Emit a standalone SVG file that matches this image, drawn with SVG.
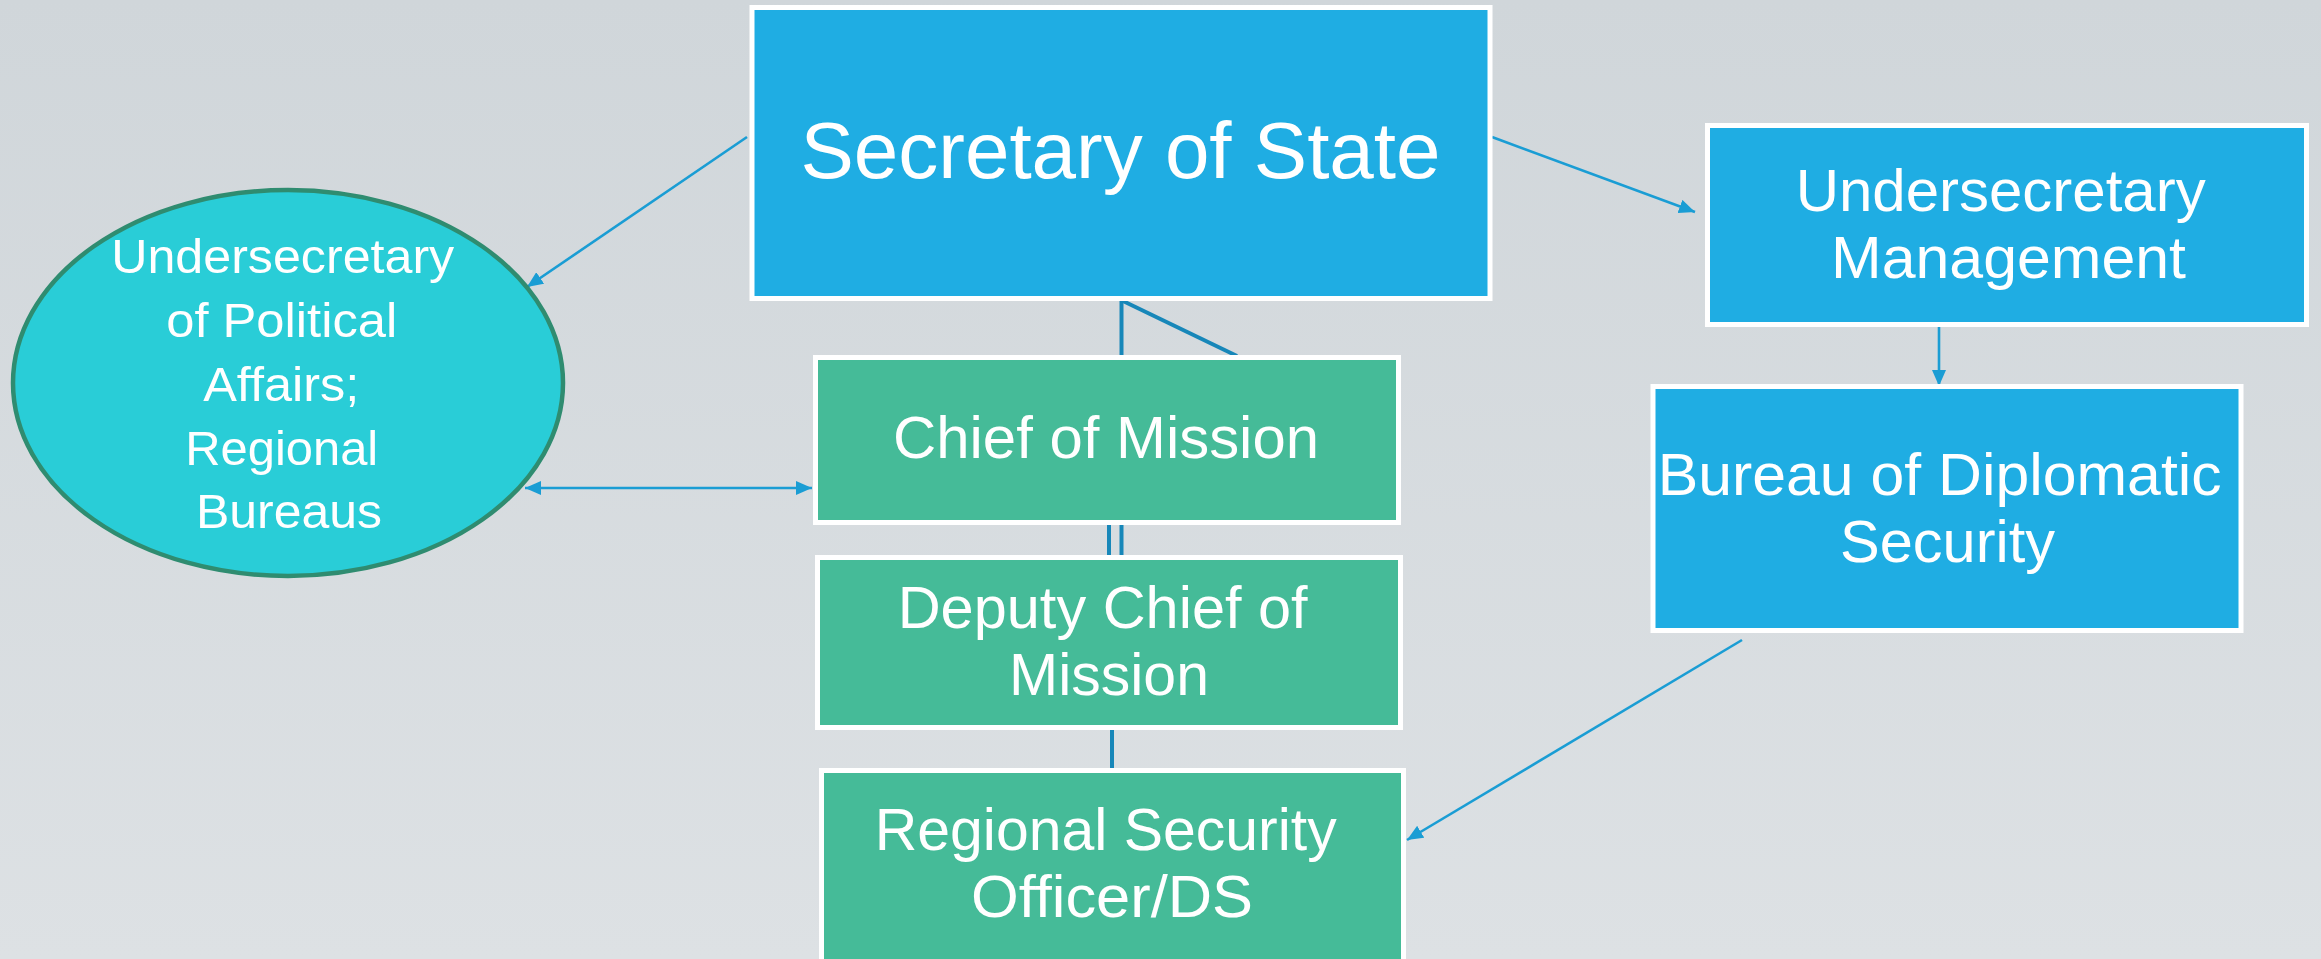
<svg xmlns="http://www.w3.org/2000/svg" width="2321" height="959" viewBox="0 0 2321 959">
  <defs>
    <linearGradient id="bg" x1="0" y1="0" x2="0" y2="1">
      <stop offset="0" stop-color="#D0D6DA"/>
      <stop offset="1" stop-color="#DDE1E4"/>
    </linearGradient>
    <marker id="arrow" viewBox="0 0 16 14" refX="16" refY="7" markerWidth="16" markerHeight="14" markerUnits="userSpaceOnUse" orient="auto-start-reverse">
      <path d="M0,0 L16,7 L0,14 Z" fill="#1A9DD4"/>
    </marker>
    <style>
      .lbl { font-family: "Liberation Sans", Arial, sans-serif; fill: #FFFFFF; text-anchor: middle; }
      .blue { fill: #1FADE3; stroke: #FFFFFF; stroke-width: 5; }
      .green { fill: #45BB98; stroke: #FFFFFF; stroke-width: 5; }
      .arr { stroke: #1A9DD4; stroke-width: 2.6; fill: none; }
      .tie { stroke: #1787B9; stroke-width: 4; fill: none; }
    </style>
  </defs>

  <rect x="0" y="0" width="2321" height="959" fill="url(#bg)"/>

  <!-- connectors -->
  <g id="connectors">
    <line class="arr" x1="747" y1="137" x2="527" y2="287" marker-end="url(#arrow)"/>
    <line class="arr" x1="1492" y1="137" x2="1695" y2="212" marker-end="url(#arrow)"/>
    <line class="arr" x1="525" y1="488" x2="812" y2="488" marker-start="url(#arrow)" marker-end="url(#arrow)"/>
    <line class="arr" x1="1939" y1="307" x2="1939" y2="386" marker-end="url(#arrow)"/>
    <line class="arr" x1="1742" y1="640" x2="1407" y2="840" marker-end="url(#arrow)"/>
    <line class="tie" x1="1121.5" y1="300" x2="1121.5" y2="356" stroke-width="4.5"/>
    <line class="tie" x1="1123" y1="301" x2="1237" y2="356"/>
    <line class="tie" x1="1109" y1="524" x2="1109" y2="556" stroke-width="3.5"/>
    <line class="tie" x1="1121.5" y1="524" x2="1121.5" y2="556" stroke-width="3.5"/>
    <line class="tie" x1="1112" y1="729" x2="1112" y2="769"/>
  </g>

  <g id="secretary">
    <rect class="blue" x="752" y="7.5" width="738" height="291"/>
    <text class="lbl" x="1120.5" y="178" font-size="80" textLength="640" lengthAdjust="spacingAndGlyphs">Secretary of State</text>
  </g>

  <g id="political-affairs">
    <ellipse cx="288" cy="383" rx="275" ry="193" fill="#29CDD7" stroke="#2F8C70" stroke-width="4.5"/>
    <text class="lbl" font-size="49">
      <tspan x="289.5" y="273" textLength="343" lengthAdjust="spacingAndGlyphs">Undersecretary</tspan>
      <tspan x="288.5" y="337" textLength="231" lengthAdjust="spacingAndGlyphs">of Political</tspan>
      <tspan x="288" y="401" textLength="156" lengthAdjust="spacingAndGlyphs">Affairs;</tspan>
      <tspan x="288.5" y="465" textLength="193" lengthAdjust="spacingAndGlyphs">Regional</tspan>
      <tspan x="289" y="528" textLength="186" lengthAdjust="spacingAndGlyphs">Bureaus</tspan>
    </text>
  </g>

  <g id="management">
    <rect class="blue" x="1707.5" y="125.5" width="599" height="199"/>
    <text class="lbl" font-size="60">
      <tspan x="2009" y="211" textLength="410" lengthAdjust="spacingAndGlyphs">Undersecretary</tspan>
      <tspan x="2008.5" y="277.5" textLength="355" lengthAdjust="spacingAndGlyphs">Management</tspan>
    </text>
  </g>

  <g id="diplomatic-security">
    <rect class="blue" x="1653" y="386.5" width="588" height="244"/>
    <text class="lbl" font-size="60">
      <tspan x="1948" y="495" textLength="564" lengthAdjust="spacingAndGlyphs">Bureau of Diplomatic</tspan>
      <tspan x="1947.5" y="562" textLength="215" lengthAdjust="spacingAndGlyphs">Security</tspan>
    </text>
  </g>

  <g id="chief-of-mission">
    <rect class="green" x="815.5" y="357.5" width="583" height="165"/>
    <text class="lbl" x="1106" y="458" font-size="60" textLength="426" lengthAdjust="spacingAndGlyphs">Chief of Mission</text>
  </g>

  <g id="deputy-chief">
    <rect class="green" x="817.5" y="557.5" width="583" height="170"/>
    <text class="lbl" font-size="60">
      <tspan x="1111" y="628" textLength="410" lengthAdjust="spacingAndGlyphs">Deputy Chief of</tspan>
      <tspan x="1109" y="695" textLength="200" lengthAdjust="spacingAndGlyphs">Mission</tspan>
    </text>
  </g>

  <g id="regional-security">
    <rect class="green" x="821.5" y="770.5" width="582" height="200"/>
    <text class="lbl" font-size="60">
      <tspan x="1114" y="850" textLength="462" lengthAdjust="spacingAndGlyphs">Regional Security</tspan>
      <tspan x="1112" y="917" textLength="282" lengthAdjust="spacingAndGlyphs">Officer/DS</tspan>
    </text>
  </g>
</svg>
